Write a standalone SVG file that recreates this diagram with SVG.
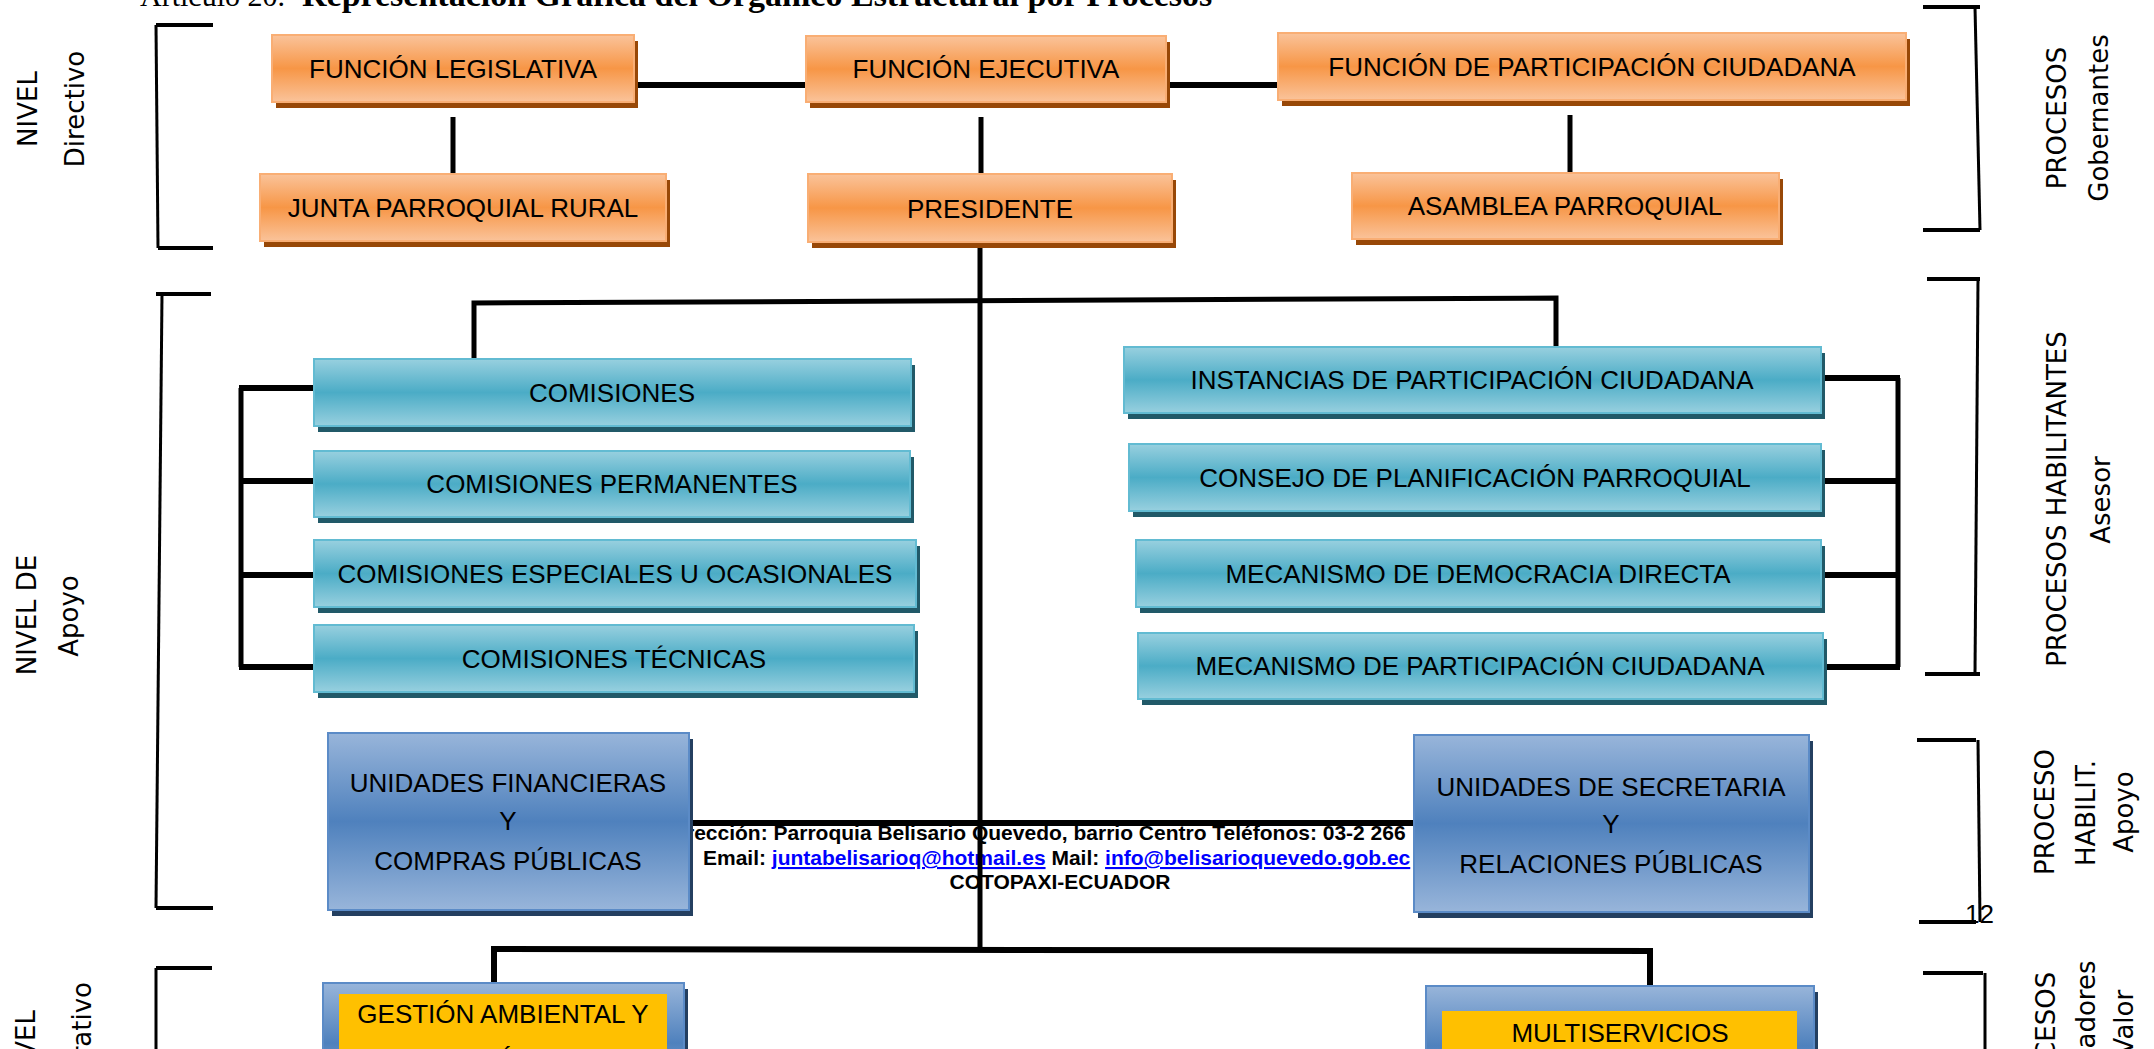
<svg xmlns="http://www.w3.org/2000/svg" width="2154" height="1049" viewBox="0 0 2154 1049">
<defs>
<linearGradient id="gO" x1="0" y1="0" x2="0" y2="1"><stop offset="0" stop-color="#FAC39A"/><stop offset="0.5" stop-color="#F79646"/><stop offset="1" stop-color="#FAC39A"/></linearGradient>
<linearGradient id="gT" x1="0" y1="0" x2="0" y2="1"><stop offset="0" stop-color="#98D0DF"/><stop offset="0.5" stop-color="#4BACC6"/><stop offset="1" stop-color="#98D0DF"/></linearGradient>
<linearGradient id="gB" x1="0" y1="0" x2="0" y2="1"><stop offset="0" stop-color="#98B5DA"/><stop offset="0.5" stop-color="#4F81BD"/><stop offset="1" stop-color="#98B5DA"/></linearGradient>
<style>
.ob{fill:url(#gO);stroke:#F9AE74;stroke-width:2}
.os{fill:#984807}
.tb{fill:url(#gT);stroke:#62BBD2;stroke-width:2}
.ts{fill:#215968}
.bb{fill:url(#gB);stroke:#5B8BC7;stroke-width:2}
.bs{fill:#243F60}
.yl{fill:#FFC000}
.lbl{font-family:"Liberation Sans",Arial,sans-serif;font-size:26px;text-anchor:middle;fill:#000}
.side{font-family:"DejaVu Sans",Verdana,sans-serif;font-size:26px;text-anchor:middle;fill:#000}
.sideE{font-family:"DejaVu Sans",Verdana,sans-serif;font-size:26px;text-anchor:end;fill:#000}
.conn{stroke:#000;fill:none;stroke-width:6}
.cv{stroke:#000;fill:none;stroke-width:5}
.br{stroke:#000;fill:none;stroke-width:4}
.brv{stroke:#000;fill:none;stroke-width:3}
.ft{font-family:"Liberation Sans",Arial,sans-serif;font-size:21px;font-weight:bold;fill:#000}
.lnk{fill:#0000FF;text-decoration:underline}
.ttl{font-family:"Liberation Serif","Times New Roman",serif;fill:#000}
</style>
</defs>

<rect width="2154" height="1049" fill="#fff"/>

<g id="title">
<text class="ttl" x="140" y="6" font-size="30">Artículo 20.-</text>
<text class="ttl" x="302" y="6" font-size="34" font-weight="bold">Representación Gráfica del Orgánico Estructural por Procesos</text>
</g>

<g id="footer">
<text class="ft" x="665" y="840">Dirección: Parroquia Belisario Quevedo, barrio Centro Teléfonos: 03-2 266</text>
<text class="ft" x="703" y="865">Email: <tspan class="lnk">juntabelisarioq@hotmail.es</tspan> Mail: <tspan class="lnk">info@belisarioquevedo.gob.ec</tspan></text>
<text class="ft" x="1060" y="889" text-anchor="middle">COTOPAXI-ECUADOR</text>
</g>

<g id="brackets">
<path class="br" d="M156,25 H213 M158,248 H213"/>
<path class="brv" d="M156,25 L158,248"/>
<path class="br" d="M156,294 H211 M156,908 H213"/>
<path class="brv" d="M162,294 L156,908"/>
<path class="br" d="M156,968 H212"/>
<path class="brv" d="M156,968 V1049"/>
<path class="br" d="M1923,7 H1980 M1923,230 H1980"/>
<path class="brv" d="M1975,7 L1980,230"/>
<path class="br" d="M1927,279 H1980 M1925,674 H1980"/>
<path class="brv" d="M1978,279 L1975,674"/>
<path class="br" d="M1917,740 H1976 M1919,922 H1976"/>
<path class="brv" d="M1978,740 L1980,922"/>
<path class="br" d="M1923,973 H1983"/>
<path class="brv" d="M1985,973 V1049"/>
</g>

<g id="side-labels">
<g id="lbl-directivo"><text class="side" transform="translate(37,109) rotate(-90)">NIVEL</text><text class="side" transform="translate(84,109) rotate(-90)">Directivo</text></g>
<g id="lbl-apoyo"><text class="side" transform="translate(36,615) rotate(-90)">NIVEL DE</text><text class="side" transform="translate(78,616) rotate(-90)">Apoyo</text></g>
<g id="lbl-operativo"><text class="sideE" transform="translate(35,1010) rotate(-90)">NIVEL</text><text class="sideE" transform="translate(91,982) rotate(-90)">Operativo</text></g>
<g id="lbl-gobernantes"><text class="side" transform="translate(2066,118) rotate(-90)">PROCESOS</text><text class="side" transform="translate(2108,118) rotate(-90)">Gobernantes</text></g>
<g id="lbl-asesor"><text class="side" transform="translate(2066,499) rotate(-90)">PROCESOS HABILITANTES</text><text class="side" transform="translate(2110,500) rotate(-90)">Asesor</text></g>
<g id="lbl-habil-apoyo"><text class="side" transform="translate(2054,812) rotate(-90)">PROCESO</text><text class="side" transform="translate(2095,813) rotate(-90)">HABILIT.</text><text class="side" transform="translate(2133,812) rotate(-90)">Apoyo</text></g>
<g id="lbl-valor"><text class="side" transform="translate(2055,1043) rotate(-90)">PROCESOS</text><text class="side" transform="translate(2095,1043) rotate(-90)">Agregadores</text><text class="side" transform="translate(2133,1043) rotate(-90)">de Valor</text></g>
<text id="page-num" x="1965" y="923" font-family="Liberation Sans,Arial,sans-serif" font-size="26" fill="#000">12</text>
</g>

<g id="connectors">
<path class="conn" d="M634,85 H806"/>
<path class="conn" d="M1166,85 H1278"/>
<path class="cv" d="M453,117 V173"/>
<path class="cv" d="M981,117 V174"/>
<path class="cv" d="M1570,115 V173"/>
<path class="cv" d="M980,245 V952"/>
<path class="cv" d="M474,359 V303 L1556,298 V347"/>
<path class="cv" d="M241,388 V667"/>
<path class="conn" d="M239,388 H314 M239,481 H314 M239,575 H314 M239,667 H314"/>
<path class="cv" d="M1898,378 V667"/>
<path class="conn" d="M1821,378 H1900 M1821,481 H1900 M1821,575 H1900 M1821,667 H1900"/>
<path class="conn" d="M689,823 H1418"/>
<path class="conn" d="M494,983 V949 L1650,951 V986"/>
</g>

<g id="n-func-legislativa"><rect class="os" x="276" y="41" width="362" height="67"/><rect class="ob" x="272" y="35" width="362" height="67"/><text class="lbl" x="453" y="78">FUNCIÓN LEGISLATIVA</text></g>
<g id="n-func-ejecutiva"><rect class="os" x="810" y="42" width="360" height="66"/><rect class="ob" x="806" y="36" width="360" height="66"/><text class="lbl" x="986" y="78">FUNCIÓN EJECUTIVA</text></g>
<g id="n-func-participacion"><rect class="os" x="1282" y="39" width="628" height="67"/><rect class="ob" x="1278" y="33" width="628" height="67"/><text class="lbl" x="1592" y="76">FUNCIÓN DE PARTICIPACIÓN CIUDADANA</text></g>
<g id="n-junta"><rect class="os" x="264" y="180" width="406" height="67"/><rect class="ob" x="260" y="174" width="406" height="67"/><text class="lbl" x="463" y="217">JUNTA PARROQUIAL RURAL</text></g>
<g id="n-presidente"><rect class="os" x="812" y="180" width="364" height="68"/><rect class="ob" x="808" y="174" width="364" height="68"/><text class="lbl" x="990" y="218">PRESIDENTE</text></g>
<g id="n-asamblea"><rect class="os" x="1356" y="179" width="427" height="66"/><rect class="ob" x="1352" y="173" width="427" height="66"/><text class="lbl" x="1565" y="215">ASAMBLEA PARROQUIAL</text></g>

<g id="n-comisiones"><rect class="ts" x="318" y="365" width="597" height="67"/><rect class="tb" x="314" y="359" width="597" height="67"/><text class="lbl" x="612" y="402">COMISIONES</text></g>
<g id="n-com-permanentes"><rect class="ts" x="318" y="457" width="596" height="66"/><rect class="tb" x="314" y="451" width="596" height="66"/><text class="lbl" x="612" y="493">COMISIONES PERMANENTES</text></g>
<g id="n-com-especiales"><rect class="ts" x="318" y="546" width="602" height="67"/><rect class="tb" x="314" y="540" width="602" height="67"/><text class="lbl" x="615" y="583">COMISIONES ESPECIALES U OCASIONALES</text></g>
<g id="n-com-tecnicas"><rect class="ts" x="318" y="631" width="600" height="67"/><rect class="tb" x="314" y="625" width="600" height="67"/><text class="lbl" x="614" y="668">COMISIONES TÉCNICAS</text></g>

<g id="n-instancias"><rect class="ts" x="1128" y="353" width="697" height="66"/><rect class="tb" x="1124" y="347" width="697" height="66"/><text class="lbl" x="1472" y="389">INSTANCIAS DE PARTICIPACIÓN CIUDADANA</text></g>
<g id="n-consejo"><rect class="ts" x="1133" y="450" width="692" height="67"/><rect class="tb" x="1129" y="444" width="692" height="67"/><text class="lbl" x="1475" y="487">CONSEJO DE PLANIFICACIÓN PARROQUIAL</text></g>
<g id="n-democracia"><rect class="ts" x="1140" y="546" width="685" height="67"/><rect class="tb" x="1136" y="540" width="685" height="67"/><text class="lbl" x="1478" y="583">MECANISMO DE DEMOCRACIA DIRECTA</text></g>
<g id="n-mec-participacion"><rect class="ts" x="1142" y="639" width="685" height="66"/><rect class="tb" x="1138" y="633" width="685" height="66"/><text class="lbl" x="1480" y="675">MECANISMO DE PARTICIPACIÓN CIUDADANA</text></g>

<g id="n-financieras"><rect class="bs" x="332" y="739" width="361" height="177"/><rect class="bb" x="328" y="733" width="361" height="177"/><text class="lbl" x="508" y="792">UNIDADES FINANCIERAS</text><text class="lbl" x="508" y="830">Y</text><text class="lbl" x="508" y="870">COMPRAS PÚBLICAS</text></g>
<g id="n-secretaria"><rect class="bs" x="1418" y="741" width="395" height="177"/><rect class="bb" x="1414" y="735" width="395" height="177"/><text class="lbl" x="1611" y="796">UNIDADES DE SECRETARIA</text><text class="lbl" x="1611" y="833">Y</text><text class="lbl" x="1611" y="873">RELACIONES PÚBLICAS</text></g>

<g id="n-gestion"><rect class="bs" x="327" y="989" width="361" height="120"/><rect class="bb" x="323" y="983" width="361" height="120"/><rect class="yl" x="339" y="994" width="328" height="100"/><text class="lbl" x="503" y="1023">GESTIÓN AMBIENTAL Y</text><text class="lbl" x="503" y="1069">ECONÓMICO</text></g>
<g id="n-multiservicios"><rect class="bs" x="1430" y="992" width="388" height="120"/><rect class="bb" x="1426" y="986" width="388" height="120"/><rect class="yl" x="1442" y="1011" width="355" height="100"/><text class="lbl" x="1620" y="1042">MULTISERVICIOS</text></g>
</svg>
